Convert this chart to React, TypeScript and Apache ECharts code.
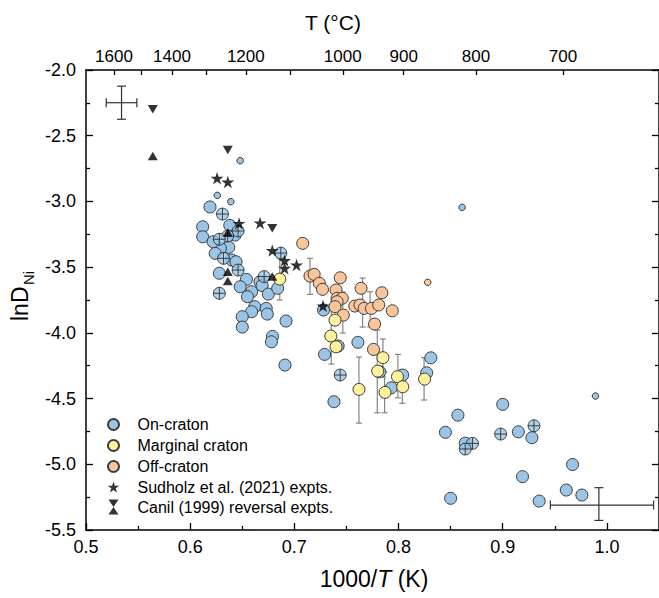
import React, { useEffect, useRef } from 'react';
import * as echarts from 'echarts';

const FONT = '"Liberation Sans", Arial, Helvetica, sans-serif';

// ---- axes ----
const xMajorTicks = [0.5, 0.6, 0.7, 0.8, 0.9, 1.0];
const xMinorTicks = [0.55, 0.65, 0.75, 0.85, 0.95];
const topTickTemps = [1600, 1500, 1400, 1300, 1200, 1100, 1000, 900, 800, 700];
const topLabelTemps = [1600, 1400, 1200, 1000, 900, 800, 700];

// ---- On-craton ----
const onCratonX = [0.619, 0.612, 0.612, 0.638, 0.643, 0.637, 0.629, 0.624, 0.640, 0.644, 0.628, 0.654, 0.648, 0.659, 0.655, 0.662, 0.659, 0.650, 0.650, 0.667, 0.669, 0.675, 0.684, 0.673, 0.674, 0.692, 0.679, 0.678, 0.691, 0.728, 0.742, 0.761, 0.729, 0.738, 0.782, 0.793, 0.804, 0.831, 0.827, 0.857, 0.845, 0.864, 0.900, 0.915, 0.928, 0.967, 0.919, 0.850, 0.961, 0.976, 0.935, 0.622];
const onCratonY = [-3.042, -3.193, -3.269, -3.182, -3.256, -3.349, -3.357, -3.395, -3.446, -3.459, -3.547, -3.593, -3.649, -3.687, -3.725, -3.801, -3.839, -3.877, -3.956, -3.611, -3.640, -3.705, -3.661, -3.814, -3.857, -3.910, -4.027, -4.068, -4.245, -3.826, -4.100, -4.072, -4.164, -4.524, -4.296, -4.418, -4.321, -4.190, -4.304, -4.626, -4.757, -4.839, -4.544, -4.753, -4.798, -5.002, -5.094, -5.259, -5.196, -5.234, -5.280, -3.307];
const onCratonCrossX = [0.631, 0.646, 0.636, 0.628, 0.632, 0.646, 0.628, 0.671, 0.687, 0.744, 0.871, 0.864, 0.898, 0.930];
const onCratonCrossY = [-3.096, -3.225, -3.263, -3.288, -3.433, -3.522, -3.699, -3.572, -3.393, -4.321, -4.841, -4.884, -4.770, -4.707];
const onCratonSmallX = [0.648, 0.626, 0.639, 0.861, 0.989];
const onCratonSmallY = [-2.690, -2.954, -3.002, -3.045, -4.481];

// ---- Marginal craton ----
const marginalX = [0.686, 0.739, 0.735, 0.740, 0.762, 0.780, 0.785, 0.787, 0.799, 0.804, 0.825];
const marginalY = [-3.591, -3.903, -4.024, -4.106, -4.430, -4.291, -4.189, -4.453, -4.333, -4.410, -4.352];

// ---- Off-craton ----
const offCratonX = [0.708, 0.715, 0.719, 0.724, 0.727, 0.744, 0.740, 0.741, 0.746, 0.741, 0.739, 0.747, 0.764, 0.758, 0.763, 0.767, 0.774, 0.781, 0.784, 0.794, 0.777, 0.776];
const offCratonY = [-3.319, -3.568, -3.555, -3.623, -3.669, -3.581, -3.674, -3.737, -3.737, -3.763, -3.801, -3.865, -3.661, -3.796, -3.788, -3.814, -3.814, -3.788, -3.695, -3.832, -3.933, -4.126];
const offCratonSmallX = [0.828];
const offCratonSmallY = [-3.616];

// ---- error bars on samples ----
const errX = [0.686, 0.715, 0.7355, 0.7465, 0.7655, 0.7727, 0.762, 0.7796, 0.785, 0.7866, 0.7994, 0.8036, 0.8245];
const errLow = [-3.750, -3.707, -4.237, -4.002, -3.956, -3.954, -4.687, -4.608, -4.336, -4.608, -4.494, -4.536, -4.511];
const errHigh = [-3.431, -3.433, -3.811, -3.689, -3.583, -3.687, -4.184, -3.979, -4.047, -4.298, -4.164, -4.283, -4.189];

// ---- experiments ----
const sudholzX = [0.6258, 0.6361, 0.6469, 0.6671, 0.6788, 0.6906, 0.6906, 0.7021, 0.7275];
const sudholzY = [-2.824, -2.852, -3.167, -3.164, -3.374, -3.450, -3.509, -3.484, -3.796];
const canilDownX = [0.5641, 0.6361, 0.6788];
const canilDownY = [-2.299, -2.609, -3.205];
const canilUpX = [0.5641, 0.6361, 0.6361, 0.6361, 0.6788];
const canilUpY = [-2.654, -3.237, -3.535, -3.606, -3.572];

// ---- representative uncertainty crosses ----
const refErrX = [0.5341, 0.9923];
const refErrY = [-2.249, -5.310];
const refErrXLow = [0.5194, 0.9457];
const refErrXHigh = [0.5488, 1.0448];
const refErrYLow = [-2.375, -5.427];
const refErrYHigh = [-2.123, -5.178];

const BLUE = '#9ac5e7';
const YELLOW = '#fef39a';
const ORANGE = '#f9c69c';
const EDGE = '#3a3a3a';

const STAR = 'path://M0,-1L0.2245,-0.309L0.951,-0.309L0.3633,0.118L0.588,0.809L0,0.382L-0.588,0.809L-0.3633,0.118L-0.951,-0.309L-0.2245,-0.309Z';
const STAR_LEG = 'path://M0,-1.33M0,1.14M0,-1L0.2245,-0.309L0.951,-0.309L0.3633,0.118L0.588,0.809L0,0.382L-0.588,0.809L-0.3633,0.118L-0.951,-0.309L-0.2245,-0.309Z';
const CROSS_CIRCLE = 'path://M0,-1A1,1,0,1,1,0,1A1,1,0,1,1,0,-1ZM-1,0L1,0M0,-1L0,1';
const TRI_UP = 'path://M0,-1L1,1L-1,1Z';
const TRI_DOWN = 'path://M-1,-1L1,-1L0,1Z';
const CIRCLE_LEG = 'path://M-1.36,-1.36M1.36,1.36M0,-1A1,1,0,1,1,0,1A1,1,0,1,1,0,-1Z';
const HOURGLASS = 'path://M-0.667,-1L0.667,-1L0,0ZM0,0L0.667,1L-0.667,1Z';

const inv = (t: number) => 1000 / (t + 273.15);
const pairs = (xs: number[], ys: number[]) => xs.map((x, i) => [x, ys[i]]);
const TOP_MIN = 0.50313;
const TOP_MAX = 1.13315;

const ON = 'On-craton';
const MAR = 'Marginal craton';
const OFF = 'Off-craton';
const SUD = 'Sudholz et al. (2021) expts.';
const CAN = 'Canil (1999) reversal expts.';

export default function App() {
  const ref = useRef<HTMLDivElement>(null);
  useEffect(() => {
    const chart = echarts.init(ref.current!, null, { renderer: 'svg' });
    const axisLineStyle = { color: '#000', width: 1.5 };
    const tickStyle = { color: '#000', width: 1.3 };
    const circleStyle = (c: string) => ({ color: c, borderColor: EDGE, borderWidth: 1, opacity: 1 });

    const option: any = {
      animation: false,
      backgroundColor: '#ffffff',
      textStyle: { fontFamily: FONT },
      grid: { left: 86, top: 70, width: 573, height: 460, containLabel: false },
      xAxis: [
        {
          type: 'value', position: 'bottom', min: 0.5, max: 1.05,
          axisLine: { show: true, onZero: false, lineStyle: axisLineStyle },
          axisTick: { show: true, inside: true, length: 7, customValues: xMajorTicks, lineStyle: tickStyle },
          axisLabel: { show: true, customValues: xMajorTicks, formatter: (v: number) => v.toFixed(1), fontSize: 18, color: '#000', margin: 8, fontFamily: FONT },
          splitLine: { show: false },
        },
        {
          type: 'value', position: 'bottom', min: 0.5, max: 1.05,
          axisLine: { show: false },
          axisTick: { show: true, inside: true, length: 4, customValues: xMinorTicks, lineStyle: tickStyle },
          axisLabel: { show: false },
          splitLine: { show: false },
        },
        {
          type: 'value', position: 'top', min: TOP_MIN, max: TOP_MAX,
          axisLine: { show: true, onZero: false, lineStyle: axisLineStyle },
          axisTick: { show: true, inside: true, length: 5, customValues: topTickTemps.map(inv), lineStyle: tickStyle },
          axisLabel: { show: true, customValues: topLabelTemps.map(inv), formatter: (v: number) => String(Math.round(1000 / v - 273.15)), fontSize: 17, color: '#000', margin: 5, fontFamily: FONT },
          splitLine: { show: false },
        },
      ],
      yAxis: [
        {
          type: 'value', position: 'left', min: -5.5, max: -2.0, interval: 0.5,
          axisLine: { show: true, onZero: false, lineStyle: axisLineStyle },
          axisTick: { show: true, inside: true, length: 7, lineStyle: tickStyle },
          minorTick: { show: true, splitNumber: 2, length: 4, lineStyle: tickStyle },
          axisLabel: { show: true, formatter: (v: number) => v.toFixed(1), fontSize: 18, color: '#000', margin: 10, fontFamily: FONT },
          splitLine: { show: false },
          minorSplitLine: { show: false },
        },
        {
          type: 'value', position: 'right', min: -5.5, max: -2.0, interval: 0.5,
          axisLine: { show: true, onZero: false, lineStyle: axisLineStyle },
          axisTick: { show: true, inside: true, length: 7, lineStyle: tickStyle },
          minorTick: { show: true, splitNumber: 2, length: 4, lineStyle: tickStyle },
          axisLabel: { show: false },
          splitLine: { show: false },
          minorSplitLine: { show: false },
        },
      ],
      legend: {
        orient: 'vertical', left: 105, top: 416, padding: 0,
        itemWidth: 38, itemHeight: 15, itemGap: 4,
        selectedMode: false,
        textStyle: { fontSize: 16, color: '#000', fontFamily: FONT },
        data: [
          { name: ON, icon: CIRCLE_LEG },
          { name: MAR, icon: CIRCLE_LEG },
          { name: OFF, icon: CIRCLE_LEG },
          { name: SUD, icon: STAR_LEG },
          { name: CAN, icon: HOURGLASS },
        ],
      },
      graphic: [
        { type: 'text', x: 333, y: 22, style: { text: 'T (°C)', fontSize: 21, fontFamily: FONT, fill: '#000', align: 'center', verticalAlign: 'middle' } },
        {
          type: 'text', x: 374, y: 579,
          style: {
            text: '1000/{i|T} (K)', fontSize: 23, fontFamily: FONT, fill: '#000', align: 'center', verticalAlign: 'middle',
            rich: { i: { fontStyle: 'italic', fontSize: 23, fontFamily: FONT, fill: '#000' } },
          },
        },
        { type: 'text', x: 20, y: 321, rotation: Math.PI / 2, style: { text: 'lnD', fontSize: 23, fontFamily: FONT, fill: '#000', align: 'left', verticalAlign: 'middle' } },
        { type: 'text', x: 28, y: 285, rotation: Math.PI / 2, style: { text: 'Ni', fontSize: 15, fontFamily: FONT, fill: '#000', align: 'left', verticalAlign: 'middle' } },
      ],
      series: [
        {
          type: 'custom', name: 'errbars', xAxisIndex: 0, yAxisIndex: 0,
          data: errX.map((x, i) => [x, errLow[i], errHigh[i]]),
          encode: { x: 0, y: [1, 2] },
          z: 1,
          renderItem: (_p: any, api: any) => {
            const x = api.value(0);
            const a = api.coord([x, api.value(1)]);
            const b = api.coord([x, api.value(2)]);
            const c = 3;
            const style = { stroke: '#858585', lineWidth: 1.2 };
            return {
              type: 'group',
              children: [
                { type: 'line', shape: { x1: a[0], y1: a[1], x2: b[0], y2: b[1] }, style },
                { type: 'line', shape: { x1: a[0] - c, y1: a[1], x2: a[0] + c, y2: a[1] }, style },
                { type: 'line', shape: { x1: b[0] - c, y1: b[1], x2: b[0] + c, y2: b[1] }, style },
              ],
            };
          },
        },
        {
          type: 'custom', name: 'uncertainty', xAxisIndex: 0, yAxisIndex: 0,
          data: refErrX.map((x, i) => [x, refErrY[i], refErrXLow[i], refErrXHigh[i], refErrYLow[i], refErrYHigh[i]]),
          encode: { x: [0, 2, 3], y: [1, 4, 5] },
          z: 1,
          renderItem: (_p: any, api: any) => {
            const x = api.value(0), y = api.value(1);
            const l = api.coord([api.value(2), y]);
            const r = api.coord([api.value(3), y]);
            const lo = api.coord([x, api.value(4)]);
            const hi = api.coord([x, api.value(5)]);
            const c = 4.5;
            const style = { stroke: '#333', lineWidth: 1.2 };
            return {
              type: 'group',
              children: [
                { type: 'line', shape: { x1: l[0], y1: l[1], x2: r[0], y2: r[1] }, style },
                { type: 'line', shape: { x1: l[0], y1: l[1] - c, x2: l[0], y2: l[1] + c }, style },
                { type: 'line', shape: { x1: r[0], y1: r[1] - c, x2: r[0], y2: r[1] + c }, style },
                { type: 'line', shape: { x1: lo[0], y1: lo[1], x2: hi[0], y2: hi[1] }, style },
                { type: 'line', shape: { x1: lo[0] - c, y1: lo[1], x2: lo[0] + c, y2: lo[1] }, style },
                { type: 'line', shape: { x1: hi[0] - c, y1: hi[1], x2: hi[0] + c, y2: hi[1] }, style },
              ],
            };
          },
        },
        { type: 'scatter', name: ON, data: pairs(onCratonX, onCratonY), symbol: 'circle', symbolSize: 12, itemStyle: circleStyle(BLUE), z: 2 },
        { type: 'scatter', name: ON, data: pairs(onCratonCrossX, onCratonCrossY), symbol: CROSS_CIRCLE, symbolSize: 12, itemStyle: { color: BLUE, borderColor: '#222', borderWidth: 1 }, z: 2 },
        { type: 'scatter', name: ON, data: pairs(onCratonSmallX, onCratonSmallY), symbol: 'circle', symbolSize: 6.5, itemStyle: circleStyle(BLUE), z: 2 },
        { type: 'scatter', name: OFF, data: pairs(offCratonX, offCratonY), symbol: 'circle', symbolSize: 12, itemStyle: circleStyle(ORANGE), z: 3 },
        { type: 'scatter', name: OFF, data: pairs(offCratonSmallX, offCratonSmallY), symbol: 'circle', symbolSize: 6.5, itemStyle: circleStyle(ORANGE), z: 3 },
        { type: 'scatter', name: MAR, data: pairs(marginalX, marginalY), symbol: 'circle', symbolSize: 12, itemStyle: circleStyle(YELLOW), z: 4 },
        { type: 'scatter', name: SUD, data: pairs(sudholzX, sudholzY), symbol: STAR, symbolKeepAspect: true, symbolSize: 13, itemStyle: { color: '#000' }, z: 5 },
        { type: 'scatter', name: CAN, data: pairs(canilDownX, canilDownY), symbol: TRI_DOWN, symbolSize: [10, 8.5], itemStyle: { color: '#000' }, z: 5 },
        { type: 'scatter', name: CAN, data: pairs(canilUpX, canilUpY), symbol: TRI_UP, symbolSize: [10, 8.5], itemStyle: { color: '#000' }, z: 5 },
      ],
    };
    chart.setOption(option);
    return () => chart.dispose();
  }, []);

  return <div ref={ref} style={{ position: 'fixed', left: 0, top: 0, width: 659, height: 598 }} />;
}
